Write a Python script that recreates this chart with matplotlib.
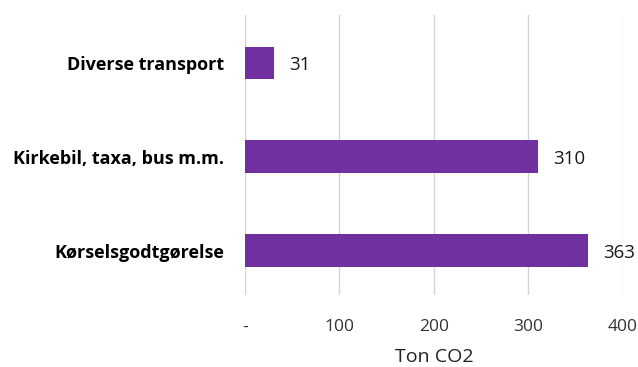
import matplotlib.pyplot as plt

categories = ['Kørselsgodtgørelse', 'Kirkebil, taxa, bus m.m.', 'Diverse transport']
values = [363, 310, 31]
xticks = [0, 100, 200, 300, 400]
xtick_labels = ['-', '100', '200', '300', '400']

plt.rcParams['font.family'] = ['Open Sans', 'DejaVu Sans']

fig = plt.figure(figsize=(6.38, 3.67), dpi=100)
ax = fig.add_axes([0.384, 0.196, 0.592, 0.763])

ax.barh(range(len(categories)), values, height=0.35, color='#7030A0', zorder=3)

# value labels just right of each bar
for y, v in enumerate(values):
    ax.annotate(str(v), (v, y), xytext=(11, 0), textcoords='offset points',
                va='center_baseline', ha='left', fontsize=13.5, color='#1a1a1a')

ax.set_xlim(0, 400)
ax.set_ylim(-0.47, 2.51)
ax.set_xticks(xticks)
ax.set_xticklabels(xtick_labels, fontsize=12.5, color='#333333')
ax.set_yticks(range(len(categories)))
ax.set_yticklabels(categories, fontsize=13, fontweight='bold', color='black')
ax.tick_params(axis='both', length=0)
ax.tick_params(axis='x', pad=17.5)
ax.tick_params(axis='y', pad=15)

ax.grid(axis='x', color='#d4d4d4', linewidth=1, zorder=0)
for s in ax.spines.values():
    s.set_visible(False)

ax.set_xlabel('Ton CO2', fontsize=14, color='#222222', labelpad=9)

fig.savefig('out.png', dpi=100)
